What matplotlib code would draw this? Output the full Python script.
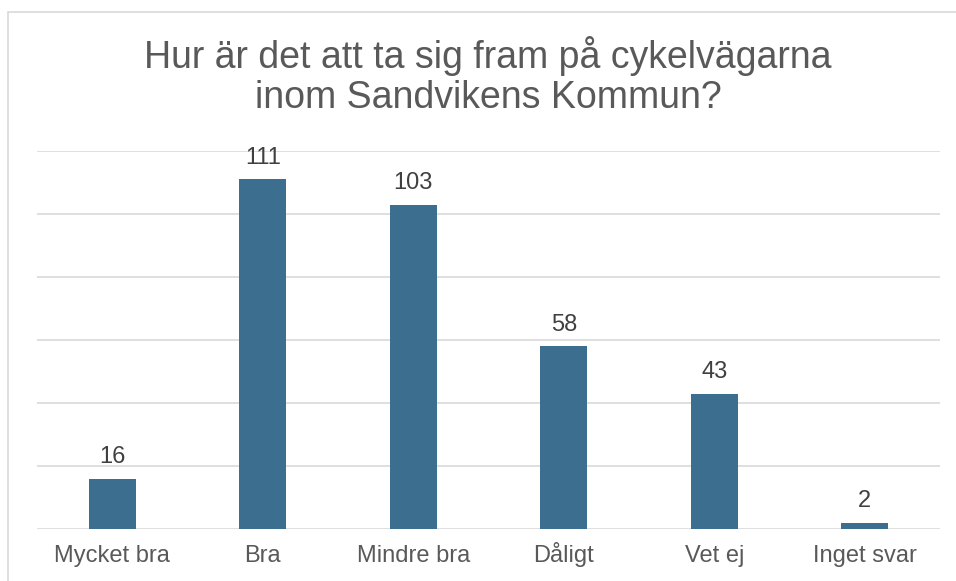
import matplotlib
matplotlib.use("Agg")
import matplotlib.pyplot as plt
from matplotlib.patches import Rectangle

categories = ["Mycket bra", "Bra", "Mindre bra", "Dåligt", "Vet ej", "Inget svar"]
counts = [16, 111, 103, 58, 43, 2]
y_ticks = [0, 20, 40, 60, 80, 100, 120]

BAR = "#3B6E8F"
TEXT = "#595959"
GRID = "#D9D9D9"

plt.rcParams["font.family"] = ["Liberation Sans", "DejaVu Sans"]

fig = plt.figure(figsize=(9.56, 5.81), dpi=100)
fig.patch.set_facecolor("white")

# outer chart frame (right/bottom run off the image)
fig.patches.append(Rectangle((8 / 956, -0.05), 1.2, 1 - 12 / 581 + 0.05,
                             transform=fig.transFigure, fill=False,
                             edgecolor=GRID, linewidth=1.2))

ax = fig.add_axes([37 / 956, 1 - 529 / 581, (940 - 37) / 956, (529 - 151) / 581])
x = range(len(categories))
ax.bar(x, counts, width=0.31, color=BAR, zorder=3)
ax.set_xlim(-0.5, len(categories) - 0.5)
ax.set_ylim(0, 120)
ax.set_yticks(y_ticks)
ax.yaxis.grid(True, color=GRID, linewidth=1.2, zorder=0)
ax.tick_params(axis="y", left=False, labelleft=False)
ax.tick_params(axis="x", length=0, labelsize=17, colors=TEXT, pad=23.5)
ax.set_xticks(list(x))
ax.set_xticklabels(categories, va="baseline")
for s in ax.spines.values():
    s.set_visible(False)
ax.patch.set_alpha(0)

for i, v in enumerate(counts):
    ax.annotate(str(v), (i, v), xytext=(0, 11), textcoords="offset points",
                ha="center", va="baseline", fontsize=17, color="#404040")

fig.text(488 / 956, 1 - 76 / 581,
         "Hur är det att ta sig fram på cykelvägarna\ninom Sandvikens Kommun?",
         ha="center", va="center", fontsize=27, color=TEXT, linespacing=1.15)

fig.savefig("out.png", dpi=100)
